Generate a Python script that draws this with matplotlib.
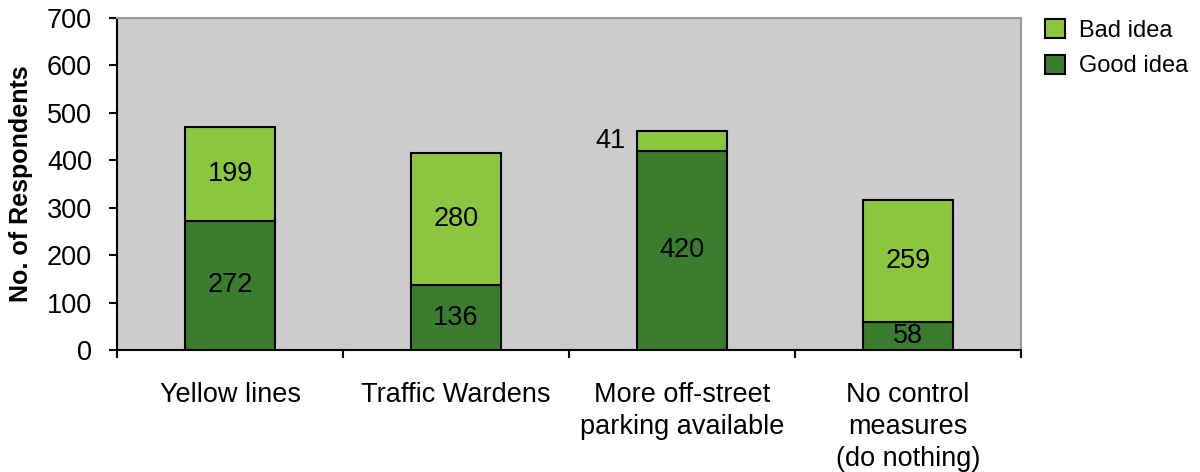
import matplotlib.pyplot as plt
import numpy as np

plt.rcParams['font.family'] = ['Liberation Sans', 'DejaVu Sans']

categories = ['Yellow lines', 'Traffic Wardens', 'More off-street\nparking available',
              'No control\nmeasures\n(do nothing)']
good = [272, 136, 420, 58]
bad = [199, 280, 41, 259]

light = '#8cc63e'
dark = '#3a7d2e'

fig = plt.figure(figsize=(12, 4.72), dpi=100)
ax = fig.add_axes([0.0975, 0.2585, 0.7535, 0.7034])
ax.set_facecolor('#cccccc')

x = np.arange(len(categories))
w = 0.4
bg = ax.bar(x, good, w, color=dark, edgecolor='black', linewidth=1.5, label='Good idea', zorder=2)
bb = ax.bar(x, bad, w, bottom=good, color=light, edgecolor='black', linewidth=1.5, label='Bad idea', zorder=2)

fs = 19.5
for i in range(len(x)):
    ax.text(x[i], good[i] / 2, str(good[i]), ha='center', va='center', fontsize=fs, zorder=3)
    if bad[i] < 80:
        ax.text(x[i] - w / 2 - 0.05, good[i] + bad[i] / 2, str(bad[i]), ha='right', va='center', fontsize=fs, zorder=3)
    else:
        ax.text(x[i], good[i] + bad[i] / 2, str(bad[i]), ha='center', va='center', fontsize=fs, zorder=3)

ax.set_xlim(-0.5, len(x) - 0.5)
ax.set_ylim(0, 700)
ax.set_yticks(range(0, 701, 100))
ax.set_xticks(np.arange(-0.5, len(x), 1.0))
ax.set_xticklabels([])
ax.set_xticks(x, minor=True)
ax.set_xticklabels(categories, minor=True, fontsize=fs, linespacing=1.3)
ax.tick_params(axis='x', which='minor', length=0, pad=23)
ax.tick_params(axis='x', which='major', direction='out', length=6, width=1.5)
ax.tick_params(axis='y', direction='out', length=6, width=1.5, labelsize=fs, pad=12)

for s in ['left', 'bottom']:
    ax.spines[s].set_linewidth(1.5)
    ax.spines[s].set_color('black')
for s in ['top', 'right']:
    ax.spines[s].set_linewidth(1.5)
    ax.spines[s].set_color('#999999')

ax.set_ylabel('No. of Respondents', fontsize=18, fontweight='bold', labelpad=10)

ax.legend(handles=[bb, bg], loc='upper left', bbox_to_anchor=(1.008, 1.046), frameon=False,
          fontsize=17, handlelength=0.85, handleheight=0.85, handletextpad=0.6, labelspacing=0.55,
          borderaxespad=0.3)

fig.savefig('out.png', dpi=100)
